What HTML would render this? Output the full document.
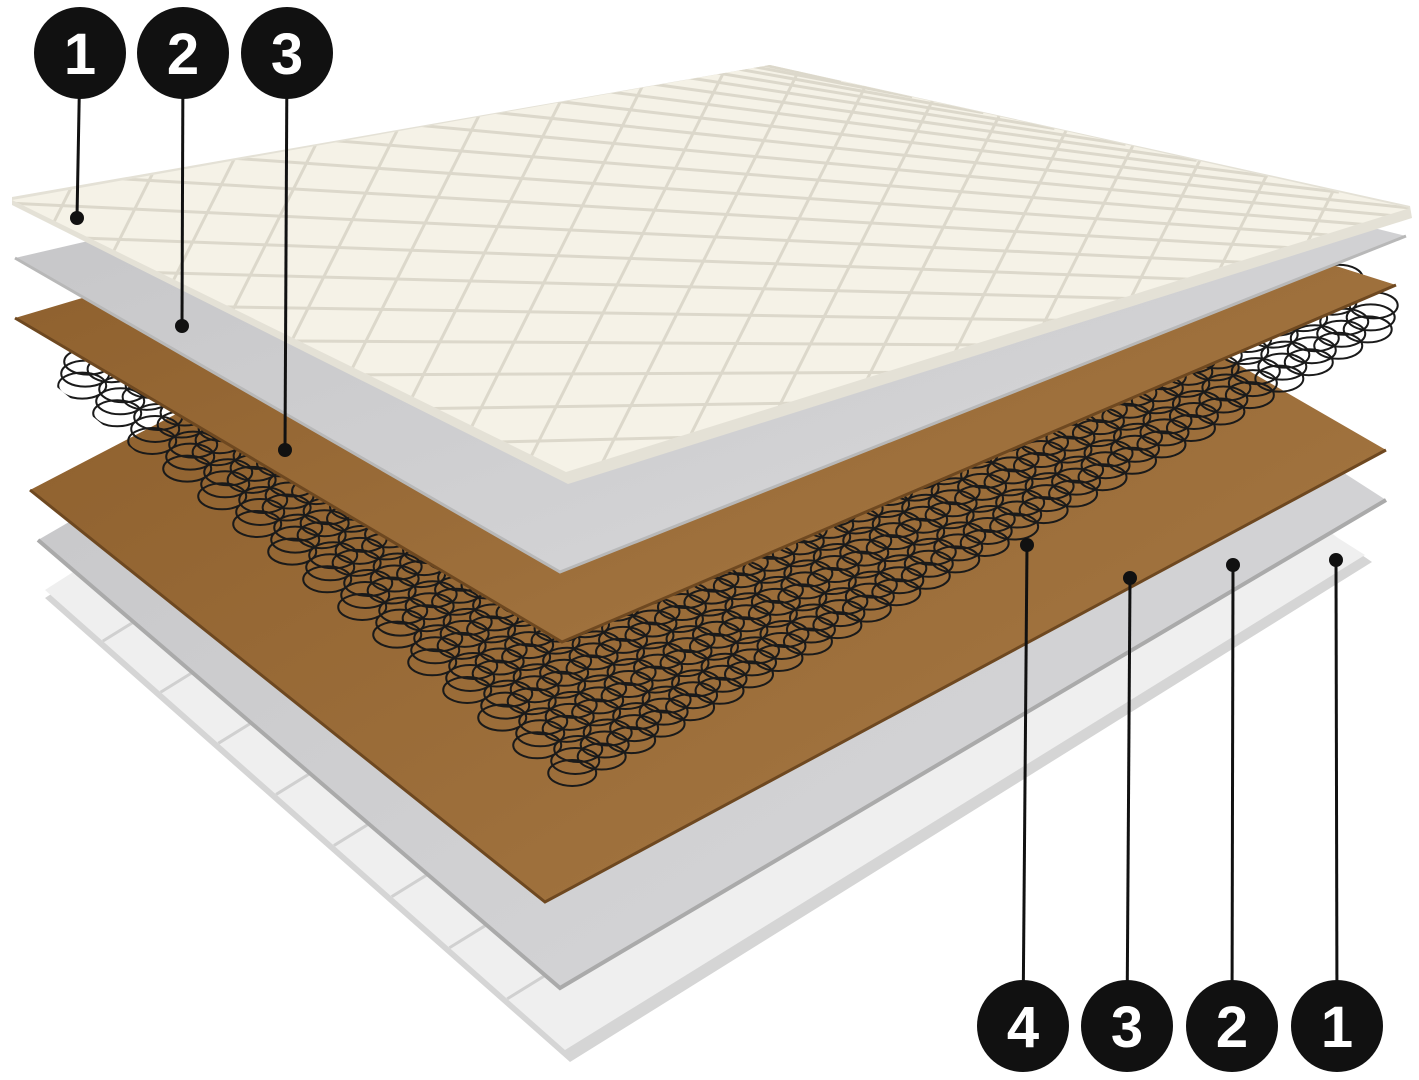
<!DOCTYPE html>
<html><head><meta charset="utf-8"><style>
html,body{margin:0;padding:0;background:#fff;width:1419px;height:1080px;overflow:hidden}
svg{display:block;overflow:hidden}
text{font-family:"Liberation Sans",sans-serif;font-weight:bold;font-size:58px;fill:#fff}
</style></head><body>
<svg id="s" width="1419" height="1080" viewBox="0 0 1419 1080" xmlns="http://www.w3.org/2000/svg">
<defs>
<linearGradient id="coco" x1="0" y1="0" x2="1" y2="1"><stop offset="0" stop-color="#8a5c2a"/><stop offset="1" stop-color="#a87a45"/></linearGradient>
<linearGradient id="grey" x1="0" y1="0" x2="1" y2="1"><stop offset="0" stop-color="#c4c4c6"/><stop offset="1" stop-color="#d8d8da"/></linearGradient>
<clipPath id="sc"><polygon points="30,365 575,812 1405,335 1405,215 770,70 20,205"/></clipPath>
<clipPath id="qc"><polygon points="12,200 566,472 1410,208 770,65"/></clipPath>
<clipPath id="wc"><polygon points="45,590 565,1050 1365,555 845,95"/></clipPath>
</defs>
<!-- bottom white cover -->
<polygon points="45,598 570,1062 1372,562 1340,540 780,120" fill="#d5d5d5"/>
<polygon points="45,590 565,1050 1365,555 1338,538 780,120" fill="#efefef"/>
<g id="botwave" stroke="#d0d0d0" stroke-width="3" fill="none" clip-path="url(#wc)"></g>
<!-- bottom grey -->
<polygon points="38,540 560,988 1386,500 780,110" fill="url(#grey)"/>
<polyline points="38,540 560,988 1386,500" stroke="#aaa" stroke-width="4" fill="none"/>
<!-- bottom coconut -->
<polygon points="30,490 545,902 1386,450 780,100" fill="url(#coco)"/>
<polyline points="30,490 545,902 1386,450" stroke="#6e4820" stroke-width="3" fill="none"/>
<g id="springs" stroke="#1a1a1a" stroke-width="2" fill="none" clip-path="url(#sc)"></g>
<!-- top coconut -->
<polygon points="15,318 562,642 1396,285 780,90" fill="url(#coco)"/>
<polyline points="15,318 562,642 1396,285" stroke="#6e4820" stroke-width="3" fill="none"/>
<!-- top grey -->
<polygon points="15,258 560,572 1406,236 780,80" fill="url(#grey)"/>
<polyline points="15,258 560,572 1406,236" stroke="#b8b8b8" stroke-width="3" fill="none"/>
<!-- top quilt -->
<polygon points="12,205 568,484 1412,218 1410,206 770,65 12,197" fill="#e4e1d6"/>
<polygon points="12,200 566,472 1410,208 770,65" fill="#f5f2e7"/>
<g id="quilt" stroke="#dcd8cb" stroke-width="3" fill="none" clip-path="url(#qc)"></g>
<!-- leaders -->
<g stroke="#111" stroke-width="3">
<line x1="80" y1="55" x2="77" y2="218"/>
<line x1="183" y1="55" x2="182" y2="326"/>
<line x1="287" y1="55" x2="285" y2="450"/>
<line x1="1023" y1="1025" x2="1027" y2="545"/>
<line x1="1127" y1="1025" x2="1130" y2="578"/>
<line x1="1232" y1="1025" x2="1233" y2="565"/>
<line x1="1337" y1="1025" x2="1336" y2="560"/>
</g>
<g fill="#111">
<circle cx="77" cy="218" r="7"/><circle cx="182" cy="326" r="7"/><circle cx="285" cy="450" r="7"/>
<circle cx="1027" cy="545" r="7"/><circle cx="1130" cy="578" r="7"/><circle cx="1233" cy="565" r="7"/><circle cx="1336" cy="560" r="7"/>
<circle cx="80" cy="53" r="46"/><circle cx="183" cy="53" r="46"/><circle cx="287" cy="53" r="46"/>
<circle cx="1023" cy="1026" r="46"/><circle cx="1127" cy="1026" r="46"/><circle cx="1232" cy="1026" r="46"/><circle cx="1337" cy="1026" r="46"/>
</g>
<g text-anchor="middle">
<text x="80" y="74">1</text><text x="183" y="74">2</text><text x="287" y="74">3</text>
<text x="1023" y="1047">4</text><text x="1127" y="1047">3</text><text x="1232" y="1047">2</text><text x="1337" y="1047">1</text>
</g>
</svg>
<script>
var NS="http://www.w3.org/2000/svg";
function bil(P,u,v){var L=P[0],F=P[1],R=P[2],B=P[3];
 return [L[0]*(1-u)*(1-v)+F[0]*u*(1-v)+R[0]*u*v+B[0]*(1-u)*v, L[1]*(1-u)*(1-v)+F[1]*u*(1-v)+R[1]*u*v+B[1]*(1-u)*v];}
function line(g,a,b){var l=document.createElementNS(NS,'line');l.setAttribute('x1',a[0]);l.setAttribute('y1',a[1]);l.setAttribute('x2',b[0]);l.setAttribute('y2',b[1]);g.appendChild(l);}
var q=document.getElementById('quilt');var Q=[[12,200],[566,472],[1410,208],[770,65]];
var n=9;
for(var k=-n;k<=2*n;k++){var c=k/n;
 line(q,bil(Q,c+1,-1),bil(Q,-1,c+1));
 line(q,bil(Q,c-1,-1),bil(Q,c+1,1));}
var w=document.getElementById('botwave');var W=[[45,590],[565,1050],[1365,555],[845,95]];
for(var i=1;i<9;i++)line(w,bil(W,i/9,0),bil(W,i/9,1));
var s=document.getElementById('springs');var S=[[50,380],[575,795],[1400,335],[873,-80]];
for(var i=0;i<15;i++)for(var j=0;j<28;j++){var p=bil(S,(i+0.5)/15,(j+0.5)/28);
 for(var k=0;k<3;k++){var e=document.createElementNS(NS,'ellipse');e.setAttribute('cx',p[0]+k*3);e.setAttribute('cy',p[1]-k*12);e.setAttribute('rx',24);e.setAttribute('ry',13);s.appendChild(e);}}
</script>
</body></html>
